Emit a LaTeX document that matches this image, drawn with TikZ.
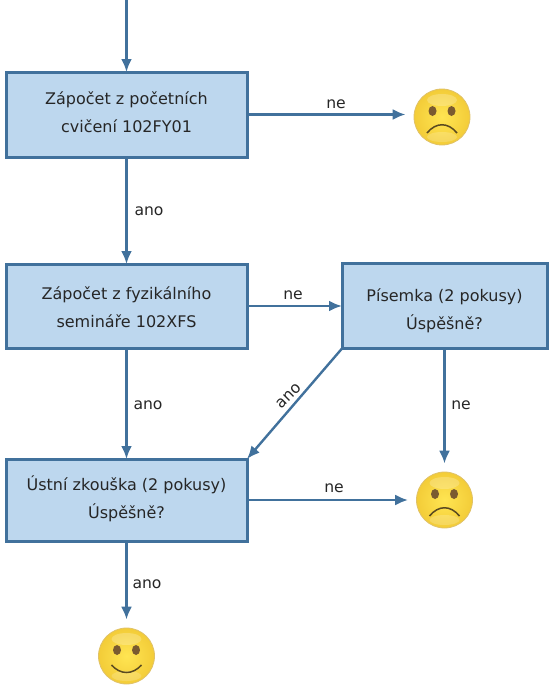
\documentclass[tikz,border=0pt]{standalone}
\usepackage{fontspec}
\setmainfont{DejaVu Sans}
\usetikzlibrary{arrows.meta,positioning}
\definecolor{boxfill}{HTML}{BDD7EE}
\definecolor{boxline}{HTML}{41719C}
\definecolor{eyecol}{HTML}{7A5A30}
\definecolor{mouthcol}{HTML}{5A4A20}
\definecolor{faceinner}{HTML}{FFE552}
\definecolor{faceouter}{HTML}{F3CC38}
\definecolor{facerim}{HTML}{E0C268}
\newcommand{\facebase}[1]{%
  \fill[white,opacity=0.22] ([yshift=17pt]#1.center) ellipse (15pt and 6pt);
  \fill[white,opacity=0.18] ([yshift=-20pt]#1.center) ellipse (15pt and 5pt);
  \fill[eyecol] ([shift={(-9.5pt,6pt)}]#1.center) ellipse (4pt and 5pt);
  \fill[eyecol] ([shift={(9.5pt,6pt)}]#1.center) ellipse (4pt and 5pt);
}
\newcommand{\up}[1]{\rule[-#1pt]{0pt}{#1pt}}
\newcommand{\down}[1]{\rule{0pt}{#1pt}}
\begin{document}
\begin{tikzpicture}[x=1pt,y=-1pt,
    box/.style={draw=boxline, fill=boxfill, line width=3pt, outer sep=0pt, align=center, font=\fontsize{16}{28}\selectfont, text=black!85, inner sep=0pt},
    smiley/.style={circle, minimum size=56pt, inner sep=0pt, draw=facerim, line width=0.8pt, inner color=faceinner, outer color=faceouter},
    arrow/.style={-{Latex[length=13pt,width=11pt]}, draw=boxline, line width=2.4pt},
    tosmiley/.style={arrow, shorten >=8pt},
    lab/.style={font=\fontsize{15.6}{18}\selectfont, text=black!85, inner sep=0pt}
  ]
    \useasboundingbox (0,0) rectangle (553,686);
    \coordinate (top) at (126.5,0);
    \node[box, minimum width=241pt, minimum height=85pt] (cviceni) at (126.5,114.5) {Zápočet z početních\\cvičení 102FY01\up{4}};
    \node[box, minimum width=241pt, minimum height=84pt] (seminar) at (126.5,306) {\down{16}Zápočet z fyzikálního\\semináře 102XFS};
    \node[box, minimum width=205pt, minimum height=85pt] (pisemka) at (444.5,306) {\down{22}Písemka (2 pokusy)\\Úspěšně?};
    \node[box, minimum width=241pt, minimum height=82pt] (zkouska) at (126.5,500) {Ústní zkouška (2 pokusy)\\Úspěšně?\up{5.3}};
    \node[smiley] (sadA) at (442,117) {};
    \node[smiley] (sadB) at (444.5,500) {};
    \node[smiley] (happy) at (126.5,656) {};
    \facebase{sadA}
    \facebase{sadB}
    \facebase{happy}
    \draw[mouthcol, line width=1.5pt] ([shift={(-15pt,-16pt)}]sadA.center) .. controls ([shift={(-6pt,-5pt)}]sadA.center) and ([shift={(6pt,-5pt)}]sadA.center) .. ([shift={(15pt,-16pt)}]sadA.center);
    \draw[mouthcol, line width=1.5pt] ([shift={(-15pt,-16pt)}]sadB.center) .. controls ([shift={(-6pt,-5pt)}]sadB.center) and ([shift={(6pt,-5pt)}]sadB.center) .. ([shift={(15pt,-16pt)}]sadB.center);
    \draw[mouthcol, line width=1.5pt] ([shift={(-15pt,-9pt)}]happy.center) .. controls ([shift={(-6pt,-19pt)}]happy.center) and ([shift={(6pt,-19pt)}]happy.center) .. ([shift={(15pt,-9pt)}]happy.center);
    \draw[arrow] (top) -- (cviceni.north);
    \draw[arrow] (cviceni) -- (seminar);
    \draw[tosmiley] (cviceni.east) -- (sadA.west |- cviceni.east);
    \draw[arrow] (seminar) -- (pisemka);
    \draw[arrow] (seminar) -- (zkouska);
    \draw[arrow] (pisemka.south west) -- (zkouska.north east);
    \draw[tosmiley] (pisemka.south) -- (sadB.north);
    \draw[tosmiley] (zkouska) -- (sadB);
    \draw[tosmiley] (zkouska) -- (happy);
    \node[lab] (neA) at (336,104) {ne};
    \node[lab] (anoA) at (149,211) {ano};
    \node[lab] (neB) at (293,295) {ne};
    \node[lab] (anoB) at (148,405) {ano};
    \node[lab, rotate=45] (anoC) at (289,396) {ano};
    \node[lab] (neC) at (461,405) {ne};
    \node[lab] (neD) at (334,488) {ne};
    \node[lab] (anoD) at (147,584) {ano};
  \end{tikzpicture}
\end{document}
